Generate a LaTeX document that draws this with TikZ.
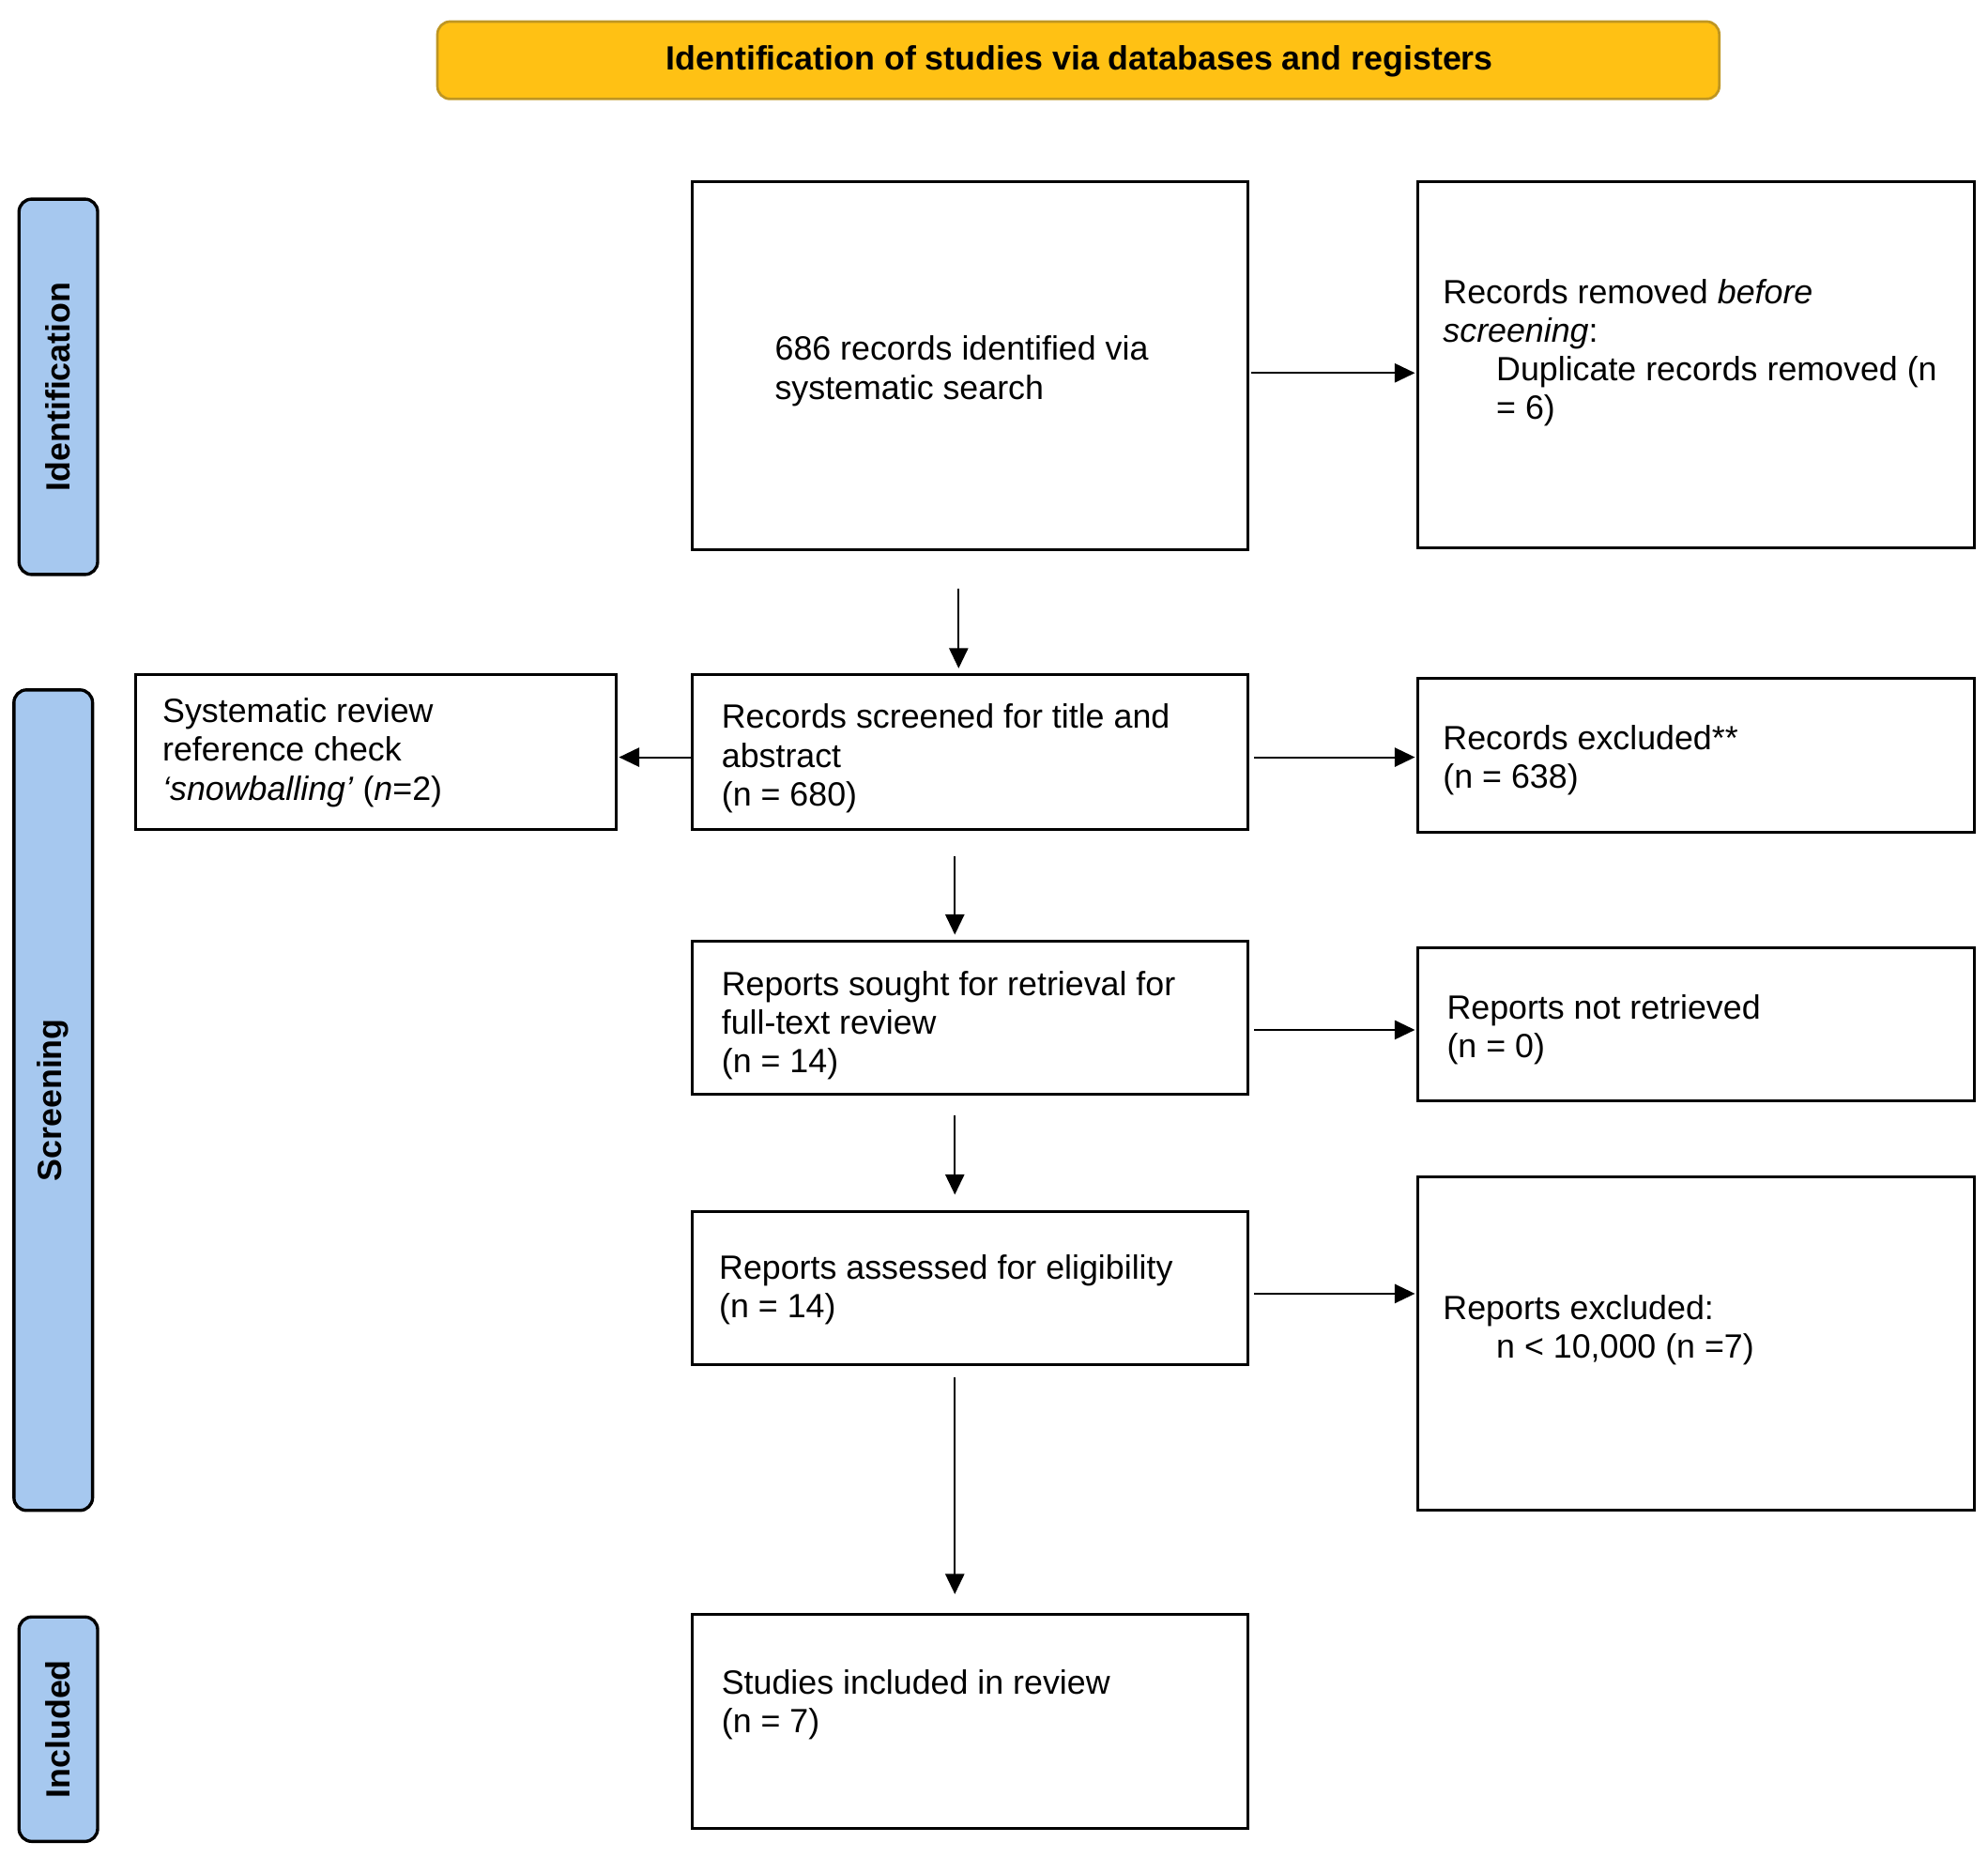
\documentclass[tikz,border=0pt]{standalone}
\usepackage{fontspec}
\setmainfont{Liberation Sans}
\usetikzlibrary{arrows.meta,calc}
\definecolor{titlefill}{HTML}{FFC114}
\definecolor{titledraw}{HTML}{BF9622}
\definecolor{sidefill}{HTML}{A6C8EF}
\tikzset{
  box/.style={draw=black, line width=2.2pt, inner sep=0pt, anchor=north west},
  txt/.style={inner sep=0pt, anchor=west, align=left, font=\fontsize{26.5}{30.5}\selectfont},
  arr/.style={-{Triangle[length=16pt,width=15pt]}, line width=1.5pt},
  side/.style={draw=black, line width=2.5pt, fill=sidefill, rounded corners=10pt},
  sidelabel/.style={rotate=90, font=\fontsize{26.5}{30}\selectfont\bfseries, inner sep=0pt},
  titlebox/.style={draw=titledraw, line width=2pt, fill=titlefill, rounded corners=10pt}
}
\begin{document}
\begin{tikzpicture}[x=1pt,y=-1pt]
\useasboundingbox (0,0) rectangle (1568,1465);

% title
\draw[titlebox] (345,17) rectangle (1356,78);
\node[inner sep=0pt, font=\fontsize{26.5}{30}\selectfont\bfseries] (title) at (851.5,48.5) {Identification of studies via databases and registers};

% side bars
\draw[side] (15,157) rectangle (77,453);
\node[sidelabel] (sid) at (46,305) {Identification};
\draw[side] (11,544) rectangle (73,1191);
\node[sidelabel] (sscr) at (42,867.5) {Screening};
\draw[side] (15,1275) rectangle (77,1452);
\node[sidelabel] (sinc) at (46,1363.5) {Included};

% boxes
\node[box, minimum width=438pt, minimum height=290pt] (b1) at (545,142) {};
\node[box, minimum width=439pt, minimum height=289pt] (r1) at (1117,142) {};
\node[box, minimum width=438pt, minimum height=122pt] (b2) at (545,531) {};
\node[box, minimum width=379pt, minimum height=122pt] (lft) at (106,531) {};
\node[box, minimum width=439pt, minimum height=121pt] (r2) at (1117,534) {};
\node[box, minimum width=438pt, minimum height=121pt] (b3) at (545,741) {};
\node[box, minimum width=439pt, minimum height=121pt] (r3) at (1117,746) {};
\node[box, minimum width=438pt, minimum height=121pt] (b4) at (545,954) {};
\node[box, minimum width=439pt, minimum height=263pt] (r4) at (1117,927) {};
\node[box, minimum width=438pt, minimum height=169pt] (b5) at (545,1272) {};

% texts
\node[txt] (t1) at ($(b1.west)+(66,4.5)$) {686 records identified via\\systematic search};
\node[txt] (tr1) at ($(r1.west)+(21,-9.5)$) {Records removed \textit{before}\\\textit{screening}:\\\hspace*{42pt}Duplicate records removed (n\\\hspace*{42pt}= 6)};
\node[txt] (t2) at ($(b2.west)+(24,5)$) {Records screened for title and\\abstract\\(n = 680)};
\node[txt] (tl) at ($(lft.west)+(22,0.3)$) {Systematic review\\reference check\\\textit{‘snowballing’} (\textit{n}=2)};
\node[txt] (tr2) at ($(r2.west)+(21,4)$) {Records excluded**\\(n = 638)};
\node[txt] (t3) at ($(b3.west)+(24,5.8)$) {Reports sought for retrieval for\\full-text review\\(n = 14)};
\node[txt] (tr3) at ($(r3.west)+(24,4.5)$) {Reports not retrieved\\(n = 0)};
\node[txt] (t4) at ($(b4.west)+(22,1.5)$) {Reports assessed for eligibility\\(n = 14)};
\node[txt] (tr4) at ($(r4.west)+(21,-10.5)$) {Reports excluded:\\\hspace*{42pt}n < 10,000 (n =7)};
\node[txt] (t5) at ($(b5.west)+(24,-13.5)$) {Studies included in review\\(n = 7)};

% horizontal arrows
\draw[arr] ($(b1.east)+(2,6)$) -- ($(r1.west)+(-1,6.5)$);
\draw[arr] ($(b2.east)+(4,4)$) -- ($(r2.west)+(-1,1.5)$);
\draw[arr] ($(b2.west)+(0,4)$) -- ($(lft.east)+(1,4)$);
\draw[arr] ($(b3.east)+(4,9.5)$) -- ($(r3.west)+(-1,4.5)$);
\draw[arr] ($(b4.east)+(4,4.5)$) -- ($(r4.west)+(-1,-39.5)$);

% vertical arrows
\draw[arr] ($(b1.south)+(-9,30)$) -- ($(b2.north)+(-9,-4)$);
\draw[arr] ($(b2.south)+(-12,20)$) -- ($(b3.north)+(-12,-4)$);
\draw[arr] ($(b3.south)+(-12,15)$) -- ($(b4.north)+(-12,-12)$);
\draw[arr] ($(b4.south)+(-12,9)$) -- ($(b5.north)+(-12,-15)$);
\end{tikzpicture}
\end{document}
